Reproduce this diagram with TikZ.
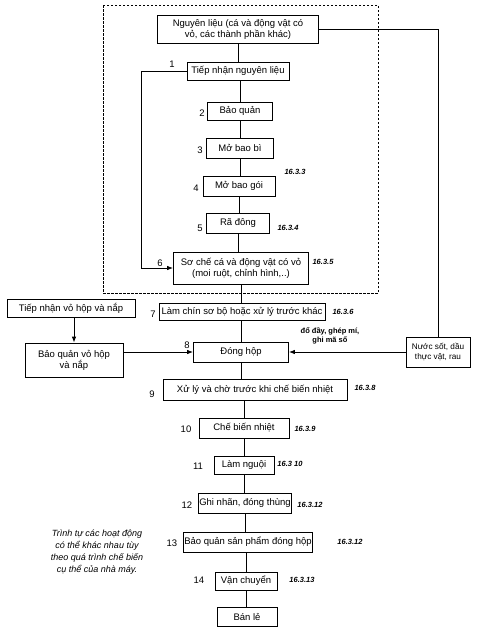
\documentclass[tikz,border=0pt]{standalone}
\usepackage{fontspec}
\setmainfont{Liberation Sans}
\usepackage{tikz}
\usetikzlibrary{arrows.meta,calc,positioning}

\tikzset{
  stage/.style={draw, line width=0.8pt, inner sep=1.2pt, align=center, font=\fontsize{9.5}{11}\selectfont},
  num/.style={font=\fontsize{9.5}{10}\selectfont},
  secref/.style={font=\fontsize{7.5}{9}\selectfont\bfseries\itshape},
  flow/.style={line width=0.8pt},
  feed/.style={line width=0.8pt, -{Latex[length=6pt,width=4.5pt]}}
}

\begin{document}
\begin{tikzpicture}[x=1pt, y=-1pt]
  \useasboundingbox (0,0) rectangle (478,630);
  \draw[line width=0.8pt, dash pattern=on 2.5pt off 1.5pt] (103,5) rectangle (378,293);

  \node[stage, minimum width=161, minimum height=28] (nl) at (238,29) {Nguyên liệu (cá và động vật có\\vỏ, các thành phần khác)};
  \node[stage, minimum width=102, minimum height=18] (tn) at (238,71) {Tiếp nhận nguyên liệu};
  \node[stage, minimum width=65, minimum height=18] (bq) at (240,111) {Bảo quản};
  \node[stage, minimum width=67, minimum height=20] (mbb) at (240,148) {Mở bao bì};
  \node[stage, minimum width=72, minimum height=20] (mbg) at (239,186) {Mở bao gói};
  \node[stage, minimum width=63, minimum height=20] (rd) at (238,223) {Rã đông};
  \node[stage, minimum width=135, minimum height=32] (sc) at (241,268) {Sơ chế cá và động vật có vỏ\\(moi ruột, chỉnh hình,..)};
  \node[stage, minimum width=166, minimum height=17] (lc) at (242,312) {Làm chín sơ bộ hoặc xử lý trước khác};
  \node[stage, minimum width=128, minimum height=18] (tnv) at (71,308) {Tiếp nhận vỏ hộp và nắp};
  \node[stage, minimum width=98, minimum height=34] (bqv) at (74,360) {Bảo quản vỏ hộp\\và nắp};
  \node[stage, minimum width=95, minimum height=20] (dh) at (241,352) {Đóng hộp};
  \node[stage, minimum width=64, minimum height=30, font=\fontsize{8.2}{10}\selectfont] (ns) at (438,352) {Nước sốt, dầu\\thực vật, rau};
  \node[stage, minimum width=184, minimum height=21] (xl) at (255,390) {Xử lý và chờ trước khi chế biến nhiệt};
  \node[stage, minimum width=90, minimum height=20] (cb) at (244,428) {Chế biến nhiệt};
  \node[stage, minimum width=60, minimum height=18] (ln) at (244,465) {Làm nguội};
  \node[stage, minimum width=90, minimum height=20] (gn) at (245,503) {Ghi nhãn, đóng thùng};
  \node[stage, minimum width=129, minimum height=20] (bqs) at (248,542) {Bảo quản sản phẩm đóng hộp};
  \node[stage, minimum width=62, minimum height=18] (vc) at (246,581) {Vận chuyển};
  \node[stage, minimum width=60, minimum height=19] (bl) at (247,617) {Bán lẻ};

  \draw[flow] (nl.south -| tn.north) -- (tn.north);
  \draw[flow] (tn.south -| bq.north) -- (bq.north);
  \draw[flow] (bq.south) -- (bq.south |- mbb.north);
  \draw[flow] (mbb.south) -- (mbb.south |- mbg.north);
  \draw[flow] (mbg.south) -- (mbg.south |- rd.north);
  \draw[flow] (rd.south) -- (rd.south |- sc.north);
  \draw[flow] (sc.south) -- (sc.south |- lc.north);
  \draw[flow] (lc.south -| dh.north) -- (dh.north);
  \draw[flow] (dh.south) -- (dh.south |- xl.north);
  \draw[flow] (xl.south -| cb.north) -- (cb.north);
  \draw[flow] (cb.south) -- (cb.south |- ln.north);
  \draw[flow] (ln.south) -- (ln.south |- gn.north);
  \draw[flow] (gn.south) -- (gn.south |- bqs.north);
  \draw[flow] (bqs.south -| vc.north) -- (vc.north);
  \draw[flow] (vc.south) -- (vc.south |- bl.north);

  \draw[feed] (tn.west) -- ++(-45,0) |- (sc.west);
  \draw[flow] (nl.east) -| (ns.north);
  \draw[feed] (ns.west) -- (dh.east);
  \draw[feed] (tnv.south -| bqv.north) -- (bqv.north);
  \draw[feed] (bqv.east |- dh.west) -- (dh.west);

  \node[num] (n1) at (172,64) {1};
  \node[num] (n2) at (202,113) {2};
  \node[num] (n3) at (200,150) {3};
  \node[num] (n4) at (196,188) {4};
  \node[num] (n5) at (200,228) {5};
  \node[num] (n6) at (160,263) {6};
  \node[num] (n7) at (153,314) {7};
  \node[num] (n8) at (187,345) {8};
  \node[num] (n9) at (152,394) {9};
  \node[num] (n10) at (186,429) {10};
  \node[num] (n11) at (198,466) {11};
  \node[num] (n12) at (187,505) {12};
  \node[num] (n13) at (172,543) {13};
  \node[num] (n14) at (199,580) {14};

  \node[secref] (r3) at (295,172) {16.3.3};
  \node[secref] (r4) at (288,228) {16.3.4};
  \node[secref] (r5) at (323,262) {16.3.5};
  \node[secref] (r6) at (343,312) {16.3.6};
  \node[secref] (r8) at (365,388) {16.3.8};
  \node[secref] (r9) at (305,429) {16.3.9};
  \node[secref] (r10) at (290,464) {16.3 10};
  \node[secref] (r12a) at (310,505) {16.3.12};
  \node[secref] (r12b) at (350,542) {16.3.12};
  \node[secref] (r13) at (302,580) {16.3.13};

  \node[align=center, inner sep=0pt, font=\fontsize{7.5}{8.5}\selectfont\bfseries] (fill) at (330,336) {đổ đầy, ghép mí,\\ghi mã số};
  \node[align=center, inner sep=0pt, font=\fontsize{9}{12}\selectfont\itshape] (note) at (97,552) {Trình tự các hoạt động\\có thể khác nhau tùy\\theo quá trình chế biến\\cụ thể của nhà máy.};
\end{tikzpicture}
\end{document}
